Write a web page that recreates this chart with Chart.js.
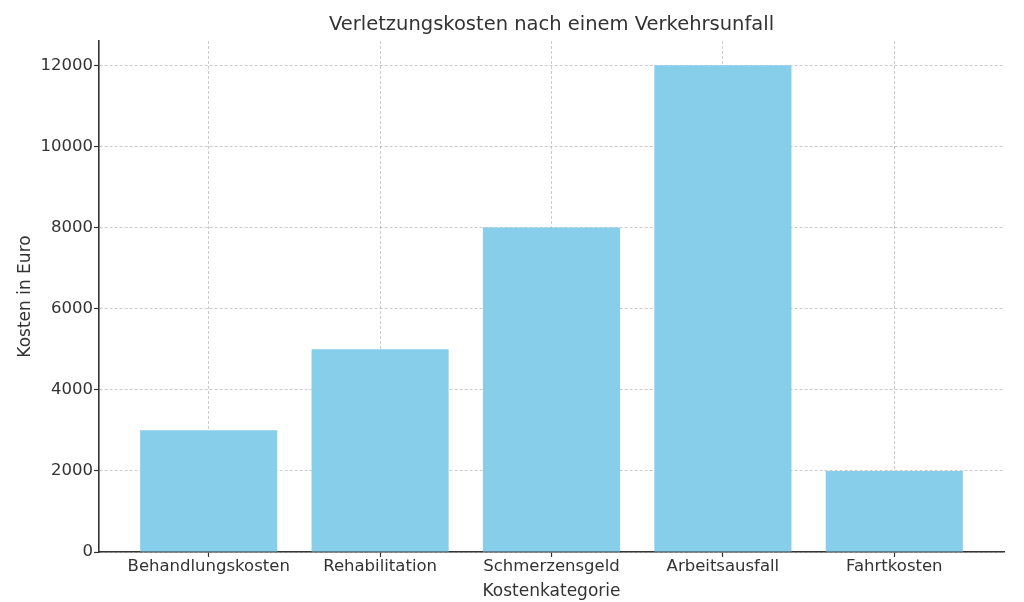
<!DOCTYPE html>
<html>
<head>
<meta charset="utf-8">
<script src="https://cdn.jsdelivr.net/npm/chart.js@4"></script>
<style>
html,body{margin:0;padding:0;background:#fff;}
#wrap{width:1024px;height:602px;}
</style>
</head>
<body>
<div id="wrap"><canvas id="c" width="1024" height="602"></canvas></div>
<script>
const categories = ["Behandlungskosten", "Rehabilitation", "Schmerzensgeld", "Arbeitsausfall", "Fahrtkosten"];
const costs = [3000, 5000, 8000, 12000, 2000];
const yTicks = [0, 2000, 4000, 6000, 8000, 10000, 12000];
const titleText = "Verletzungskosten nach einem Verkehrsunfall";
const xTitle = "Kostenkategorie";
const yTitle = "Kosten in Euro";

const FONT = '"DejaVu Sans", sans-serif';
const TXT = '#333333';
const GRID = 'rgba(160,160,160,0.55)';

const titlePlugin = {
  id: 'topTitle',
  afterDraw(chart) {
    const ctx = chart.ctx, a = chart.chartArea;
    ctx.save();
    ctx.font = '19.5px ' + FONT;
    ctx.fillStyle = TXT;
    ctx.textAlign = 'center';
    ctx.textBaseline = 'middle';
    ctx.fillText(titleText, (a.left + a.right) / 2, 25);
    ctx.restore();
  }
};

new Chart(document.getElementById('c'), {
  type: 'bar',
  data: {
    datasets: [{
      data: costs.map((v, i) => ({x: i, y: v})),
      backgroundColor: '#87CEEB',
      borderWidth: 0,
      barPercentage: 0.8,
      categoryPercentage: 1.0
    }]
  },
  options: {
    responsive: false,
    animation: false,
    devicePixelRatio: 1,
    layout: {padding: {top: 41, right: 20, bottom: 0, left: 0}},
    plugins: {legend: {display: false}, tooltip: {enabled: false}, title: {display: false}},
    scales: {
      x: {
        type: 'linear',
        min: -0.64,
        max: 4.64,
        offset: false,
        z: 1,
        afterBuildTicks: s => { s.ticks = categories.map((c, i) => ({value: i})); },
        afterFit: s => { s.height = 50; },
        ticks: {
          callback: v => categories[v],
          font: {family: FONT, size: 16.5},
          color: TXT,
          padding: 0,
          maxRotation: 0,
          autoSkip: false
        },
        grid: {offset: false, color: GRID, lineWidth: 1, tickLength: 5, tickColor: '#333333', tickWidth: 1.2},
        border: {display: true, color: '#333333', width: 1.6, dash: [3, 2]},
        title: {display: true, text: xTitle, font: {family: FONT, size: 17}, color: TXT, padding: {top: 0, bottom: 0}}
      },
      y: {
        type: 'linear',
        min: 0,
        max: 12600,
        z: 1,
        afterBuildTicks: s => { s.ticks = yTicks.map(v => ({value: v})); },
        afterFit: s => { s.width = 99; },
        ticks: {
          font: {family: FONT, size: 16.5},
          color: TXT,
          padding: 1,
          callback: v => String(v)
        },
        grid: {color: GRID, lineWidth: 1, tickLength: 5, tickColor: '#333333', tickWidth: 1.2},
        border: {display: true, color: '#333333', width: 1.6, dash: [3, 2]},
        title: {display: true, text: yTitle, font: {family: FONT, size: 17}, color: TXT, padding: {top: 15, bottom: 0}}
      }
    }
  },
  plugins: [titlePlugin]
});
</script>
</body>
</html>
